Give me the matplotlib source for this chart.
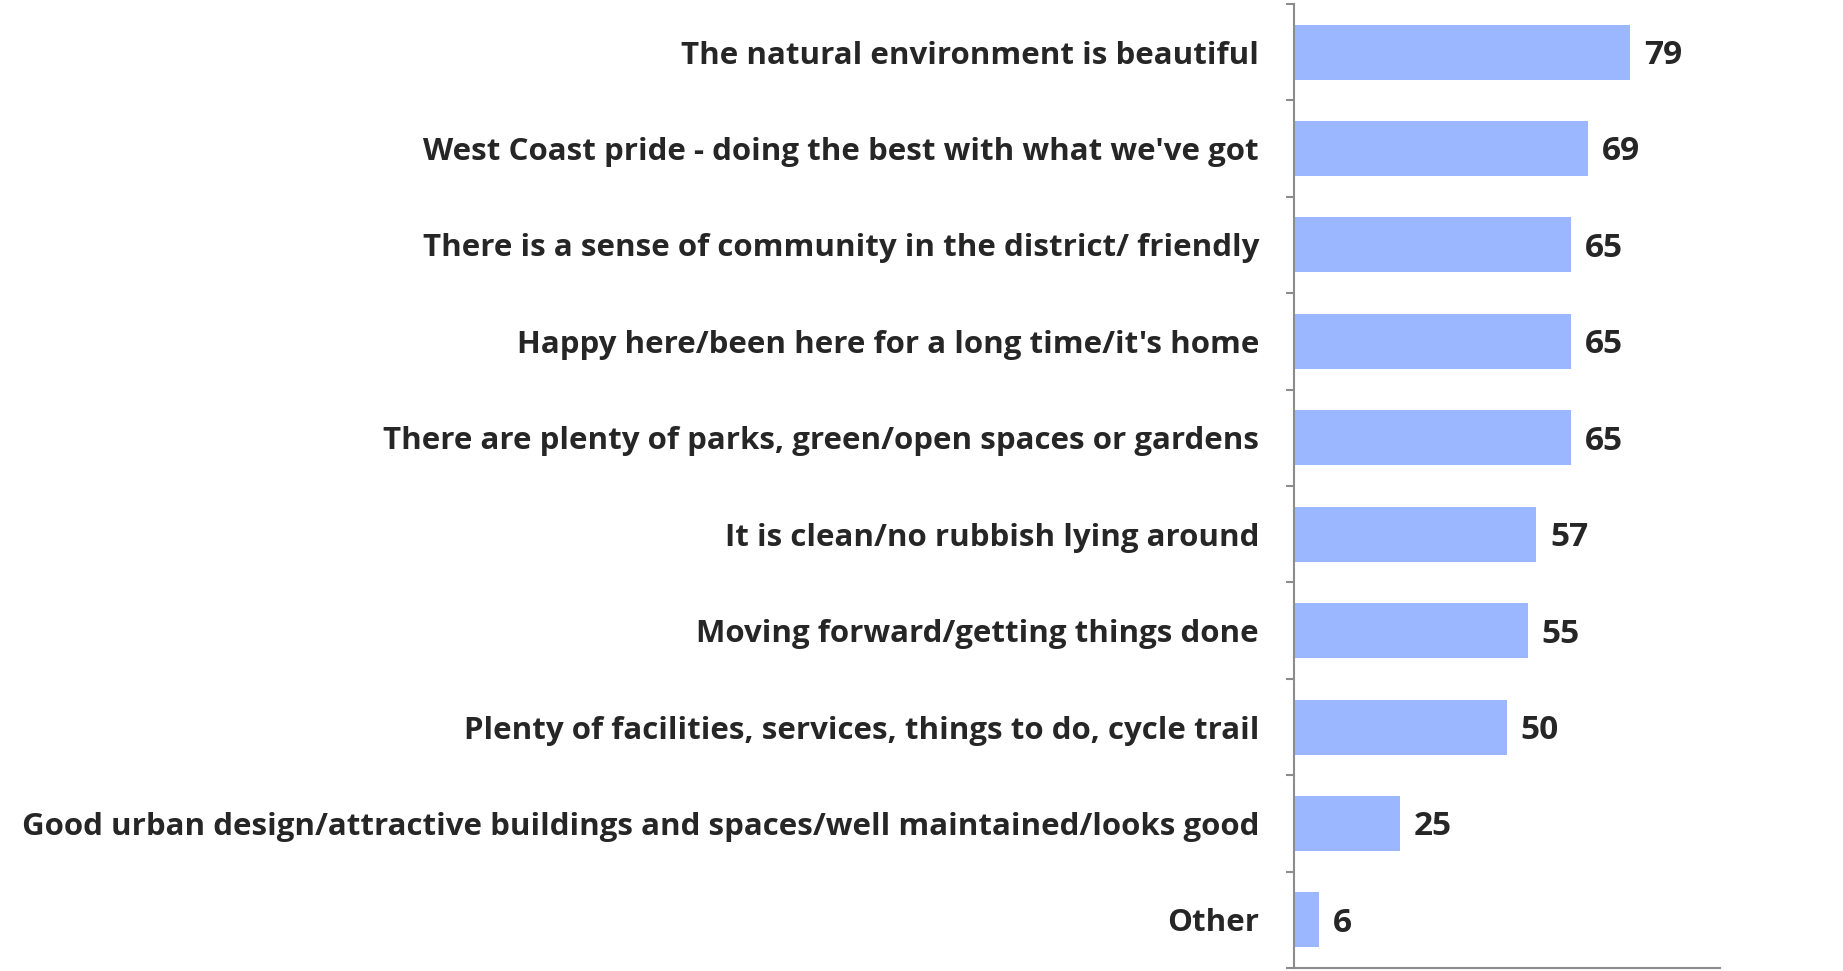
import matplotlib
matplotlib.use("Agg")

import matplotlib.pyplot as plt
import numpy as np

categories = [
    "The natural environment is beautiful",
    "West Coast pride - doing the best with what we've got",
    "There is a sense of community in the district/ friendly",
    "Happy here/been here for a long time/it's home",
    "There are plenty of parks, green/open spaces or gardens",
    "It is clean/no rubbish lying around",
    "Moving forward/getting things done",
    "Plenty of facilities, services, things to do, cycle trail",
    "Good urban design/attractive buildings and spaces/well maintained/looks good",
    "Other",
]
values = [79, 69, 65, 65, 65, 57, 55, 50, 25, 6]

plt.rcParams["font.family"] = ["Open Sans", "DejaVu Sans"]
text_color = "#262626"
axis_color = "#8c8c8c"

fig = plt.figure(figsize=(18.43, 9.71), dpi=100)
ax = fig.add_axes([0.702, 0.003, 0.231, 0.993])

y = np.arange(len(categories))
ax.barh(y, values, height=0.57, color="#9bb7ff", edgecolor="none")

for yi, v in zip(y, values):
    ax.annotate(str(v), (v, yi), xytext=(10, -2.5), textcoords="offset points",
                va="center", ha="left", fontsize=24, fontweight="bold",
                color=text_color)

ax.set_xlim(0, 100)
ax.set_ylim(len(categories) - 0.5, -0.5)

ax.set_yticks(y)
ax.set_yticklabels(categories, fontsize=22.5, fontweight="bold", color=text_color)
ax.tick_params(axis="y", which="major", length=0, pad=25)
ax.set_yticks(np.arange(len(categories) + 1) - 0.5, minor=True)
ax.tick_params(axis="y", which="minor", length=6, width=1.5, color=axis_color,
               direction="out")
ax.set_xticks([])

for side in ["top", "right"]:
    ax.spines[side].set_visible(False)
for side in ["left", "bottom"]:
    ax.spines[side].set_color(axis_color)
    ax.spines[side].set_linewidth(1.5)

fig.savefig("out.png", dpi=100)
plt.close(fig)
